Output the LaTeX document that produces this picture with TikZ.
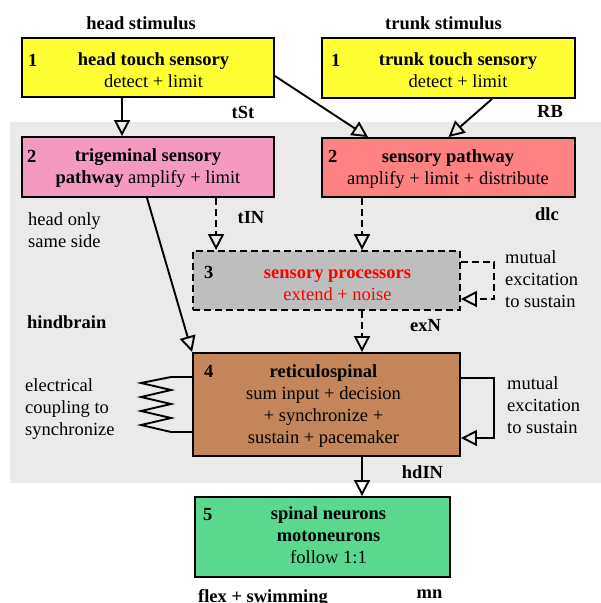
\documentclass[tikz,border=0pt]{standalone}
\usepackage{fontspec}
\setmainfont{Liberation Serif}
\usetikzlibrary{arrows.meta}

\definecolor{touchyellow}{RGB}{255,255,51}
\definecolor{trigpink}{RGB}{244,154,193}
\definecolor{pathsalmon}{RGB}{255,130,130}
\definecolor{procgrey}{RGB}{190,190,190}
\definecolor{retibrown}{RGB}{196,133,90}
\definecolor{spinalgreen}{RGB}{90,217,142}
\definecolor{hindgrey}{RGB}{234,234,234}

\newcommand\bodyfont{\fontsize{18.5}{22}\selectfont}

\tikzset{
  box/.style={draw, line width=1.9pt, inner sep=0pt},
  txt/.style={inner sep=0pt, anchor=base, align=center},
  lbl/.style={inner sep=0pt, anchor=base west, align=left},
  bold/.style={font=\bodyfont\bfseries},
  num/.style={inner sep=0pt, anchor=base west, bold},
  arr/.style={line width=1.9pt, -{Triangle[open,length=16pt,width=16pt]}},
  dsh/.style={dash pattern=on 7pt off 4pt}
}

\begin{document}
\begin{tikzpicture}[x=1pt,y=-1pt,font=\bodyfont]
\useasboundingbox (0,0) rectangle (601,603);

% hindbrain region
\fill[hindgrey] (10,122) rectangle (601,483);

% Boxes
\node[box, fill=touchyellow, minimum width=252pt, minimum height=59pt] (hts) at (148,67.5) {};
\node[box, fill=touchyellow, minimum width=253pt, minimum height=60pt] (tts) at (448.5,68) {};
\node[box, fill=trigpink, minimum width=252pt, minimum height=60pt] (tgs) at (148,167) {};
\node[box, fill=pathsalmon, minimum width=253pt, minimum height=59pt] (sp) at (448.5,167.5) {};
\node[box, dsh, fill=procgrey, minimum width=267pt, minimum height=59pt] (spr) at (326.5,280.5) {};
\node[box, fill=retibrown, minimum width=267pt, minimum height=103pt] (rs) at (326.5,404.5) {};
\node[box, fill=spinalgreen, minimum width=255pt, minimum height=80pt] (sn) at (322.5,537) {};
\coordinate (colX) at (362,0);

% Box texts (base = last line)
\node[num] at (28,66) {1};
\node[txt] at (153.5,87) {\textbf{head touch sensory}\\detect + limit};
\node[num] at (331,66) {1};
\node[txt] at (458,87) {\textbf{trunk touch sensory}\\detect + limit};
\node[num] at (27,162) {2};
\node[txt] at (148,183) {\textbf{trigeminal sensory}\\\textbf{pathway} amplify + limit};
\node[num] at (328,162) {2};
\node[txt] at (448,184) {\textbf{sensory pathway}\\amplify + limit + distribute};
\node[num] at (204,278) {3};
\node[txt, text=red] at (337.5,300) {\textbf{sensory processors}\\extend + noise};
\node[num] at (204,377) {4};
\node[txt] at (323.5,443) {\textbf{reticulospinal}\\sum input + decision\\+ synchronize +\\sustain + pacemaker};
\node[num] at (203,520) {5};
\node[txt] at (328.5,563) {\textbf{spinal neurons}\\\textbf{motoneurons}\\follow 1:1};

% Labels
\node[txt, bold] at (141,29) {head stimulus};
\node[txt, bold] at (443.5,29) {trunk stimulus};
\node[txt, bold] at (243,118) {tSt};
\node[txt, bold] at (550,117) {RB};
\node[txt, bold] at (251,223) {tIN};
\node[txt, bold] at (547,220) {dlc};
\node[txt, bold] at (425.5,331) {exN};
\node[txt, bold] at (422.5,478) {hdIN};
\node[txt, bold] at (429.5,598) {mn};
\node[txt, bold] at (263,602) {flex + swimming};
\node[lbl, bold] at (27,328) {hindbrain};
\node[lbl] at (28,247) {head only\\same side};
\node[lbl] at (505,307) {mutual\\excitation\\to sustain};
\node[lbl] at (507,433) {mutual\\excitation\\to sustain};
\node[lbl] at (25,435) {electrical\\coupling to\\synchronize};

% Connections
\draw[arr] ([xshift=-26pt]hts.south) -- ([xshift=-26pt]tgs.north);
\draw[arr] ([yshift=-8.5pt]hts.east) -- ([xshift=-80.5pt]sp.north);
\draw[arr] ([xshift=43.5pt]tts.south) -- (sp.north);
\draw[arr] ([xshift=-1pt]tgs.south) -- (rs.north west);
\draw[arr, dsh] ([xshift=24pt]spr.north west |- tgs.south) -- ([xshift=24pt]spr.north west);
\draw[arr, dsh] (sp.south -| colX) -- (spr.north -| colX);
\draw[arr, dsh] (spr.south -| colX) -- (rs.north -| colX);
\draw[arr] (rs.south -| colX) -- (sn.north -| colX);

% self excitation loops
\draw[arr, dsh] ([yshift=18.5pt]spr.east) -- ++(33,0) |- ([yshift=-18.5pt]spr.east);
\draw[arr] ([yshift=26.5pt]rs.east) -- ++(33,0) |- ([yshift=-33.5pt]rs.east);

% electrical coupling
\draw[line width=1.9pt] ([yshift=27.5pt]rs.west) -- ++(-21,0) -- ++(-30,6)
  -- ++(30,7) -- ++(-30,7) -- ++(30,7) -- ++(-30,7) -- ++(30,7) -- ++(-30,7)
  -- ++(30,7) -- ++(21,0);
\end{tikzpicture}
\end{document}
